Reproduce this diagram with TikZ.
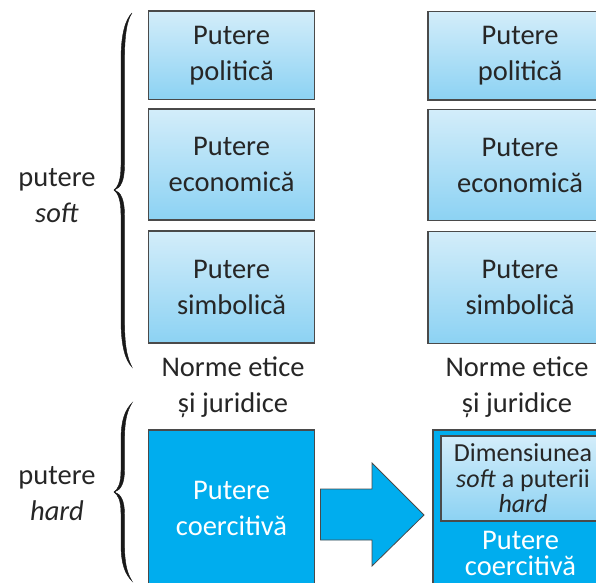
\documentclass[tikz,border=0pt]{standalone}
\usepackage{fontspec}
\setmainfont{Carlito}
\definecolor{boxtop}{HTML}{D3EDFA}
\definecolor{boxbot}{HTML}{8CD2F3}
\definecolor{bordergray}{HTML}{4A4A4A}
\definecolor{textgray}{HTML}{262626}
\definecolor{cyanfill}{HTML}{00ADEE}
\newcommand\bigfs{\fontsize{28.5}{36}\selectfont}
\newcommand\tightfs{\fontsize{28.5}{26}\selectfont}
\newcommand\innerfs{\fontsize{26}{25.5}\selectfont}
\begin{document}
\begin{tikzpicture}[x=1pt,y=-1pt,
  lbox/.style={draw=bordergray, line width=1.4pt, top color=boxtop, bottom color=boxbot,
    text=textgray, align=center, inner sep=0pt, font=\bigfs},
  cbox/.style={draw=bordergray, line width=1.4pt, fill=cyanfill, text=white,
    align=center, inner sep=0pt, font=\bigfs},
  label/.style={text=textgray, align=center, inner sep=0pt, font=\bigfs},
  bracefill/.style={fill=black!90, draw=black!90, line width=0.4pt},
  bigarrow/.style={fill=cyanfill, draw=bordergray, line width=0.8pt, line join=miter}]
\useasboundingbox (0,0) rectangle (596,582);
\clip (0,0) rectangle (596,582);

% left column
\node[lbox, minimum width=166pt, minimum height=88.5pt] (lp) at (231.5,55.25) {Putere\\politică};
\node[lbox, minimum width=166pt, minimum height=111pt] (le) at (231.5,164.5) {Putere\\economică};
\node[lbox, minimum width=166pt, minimum height=112pt] (ls) at (231.5,287) {Putere\\simbolică};
\node[label] (ln) at (233,387) {Norme etice\\și juridice};
\node[cbox, minimum width=166pt, minimum height=156pt] (lc) at (231.5,508) {Putere\\coercitivă};

% right column
\node[lbox, minimum width=184pt, minimum height=88.5pt] (rp) at (520,55.75) {Putere\\politică};
\node[lbox, minimum width=184pt, minimum height=111pt] (re) at (520,165) {Putere\\economică};
\node[lbox, minimum width=184pt, minimum height=112pt] (rs) at (520,287.5) {Putere\\simbolică};
\node[label] (rn) at (517,387) {Norme etice\\și juridice};
\node[cbox, minimum width=180pt, minimum height=180pt] (rc) at (523,520) {};
\node[lbox, minimum width=164pt, minimum height=85pt, font=\innerfs] (rd) at (523,478.5)
  {Dimensiunea\\\textit{soft} a puterii\\\textit{hard}};
\node[text=white, align=center, inner sep=0pt, font=\tightfs, anchor=north] (rt) at (520.5,531)
  {Putere\\coercitivă};

% arrow
\draw[bigarrow] (320.5,489) -- (372,489) -- (372,463) -- (424,515) -- (372,566)
  -- (372,540) -- (320.5,540) -- cycle;

% side labels
\node[label] (soft) at (57,196) {putere\\\textit{soft}};
\node[label] (hard) at (57,494) {putere\\\textit{hard}};

% braces
\filldraw[bracefill] (132,13) .. controls (125,20) and (121,35) .. (121,60) -- (121,165)
  .. controls (121,180) and (118,187) .. (114,190)
  .. controls (118,193) and (121,200) .. (121,215) -- (121,320)
  .. controls (121,345) and (125,360) .. (132,367)
  .. controls (127,358) and (124.5,345) .. (124.5,320) -- (124.5,215)
  .. controls (124.5,200) and (121,192) .. (114.5,190)
  .. controls (121,188) and (124.5,180) .. (124.5,165) -- (124.5,60)
  .. controls (124.5,35) and (127,20) .. (132,13) -- cycle;
\filldraw[bracefill] (132,403) .. controls (125,410) and (121,420) .. (121,440) -- (121,470)
  .. controls (121,484) and (118,489) .. (114,492)
  .. controls (118,495) and (121,500) .. (121,514) -- (121,544)
  .. controls (121,564) and (125,574) .. (132,581)
  .. controls (127,573) and (124.5,563) .. (124.5,544) -- (124.5,514)
  .. controls (124.5,501) and (121,494) .. (114.5,492)
  .. controls (121,490) and (124.5,483) .. (124.5,470) -- (124.5,440)
  .. controls (124.5,421) and (127,411) .. (132,403) -- cycle;
\end{tikzpicture}
\end{document}
